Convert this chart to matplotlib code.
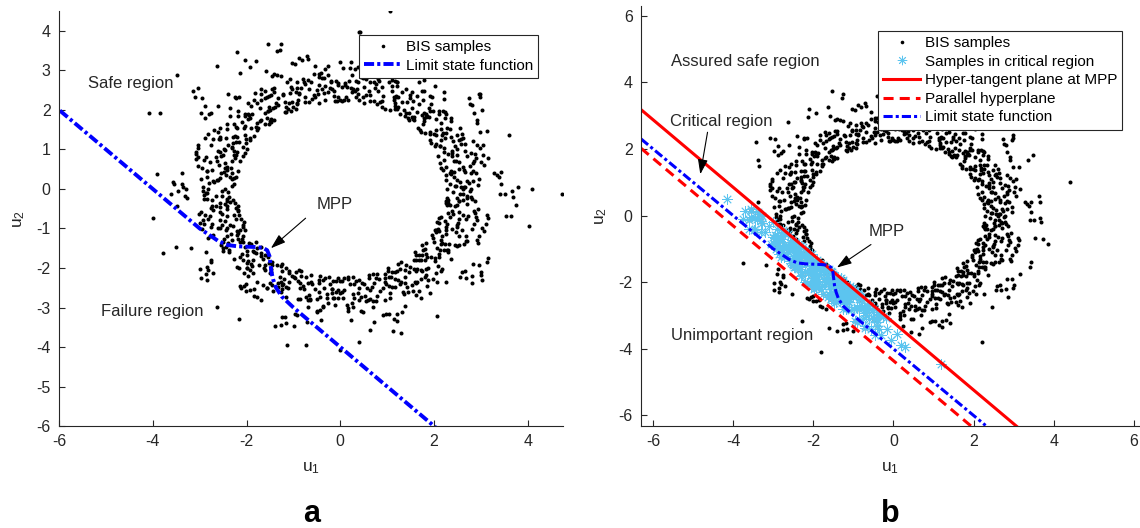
import numpy as np
import matplotlib
matplotlib.use('Agg')
import matplotlib.pyplot as plt

plt.rcParams['font.family'] = ['Liberation Sans', 'DejaVu Sans']
plt.rcParams['mathtext.default'] = 'regular'
plt.rcParams['axes.unicode_minus'] = False

# BIS samples around the safe circle, stored as (angle in degrees, radius)
ring_deg = [
    0, 4, 7, 11, 14, 18, 22, 25, 29, 32,
    36, 40, 43, 47, 50, 54, 58, 61, 65, 68,
    72, 76, 79, 83, 86, 90, 94, 97, 101, 104,
    108, 112, 115, 119, 122, 126, 130, 133, 137, 140,
    144, 148, 151, 155, 158, 162, 166, 169, 173, 176,
    180, 184, 187, 191, 194, 198, 202, 205, 209, 212,
    216, 220, 223, 227, 230, 234, 238, 241, 245, 248,
    252, 256, 259, 263, 266, 270, 274, 277, 281, 284,
    288, 292, 295, 299, 302, 306, 310, 313, 317, 320,
    324, 328, 331, 335, 338, 342, 346, 349, 353, 356,
    2, 5, 9, 12, 16, 20, 23, 27, 30, 34,
    38, 41, 45, 48, 52, 56, 59, 63, 66, 70,
    74, 77, 81, 84, 88, 92, 95, 99, 102, 106,
    110, 113, 117, 120, 124, 128, 131, 135, 138, 142,
    146, 149, 153, 156, 160, 164, 167, 171, 174, 178,
    182, 185, 189, 192, 196, 200, 203, 207, 210, 214,
    218, 221, 225, 228, 232, 236, 239, 243, 246, 250,
    254, 257, 261, 264, 268, 272, 275, 279, 282, 286,
    290, 293, 297, 300, 304, 308, 311, 315, 318, 322,
    326, 329, 333, 336, 340, 344, 347, 351, 354, 358,
    1, 3, 8, 10, 15, 17, 21, 26, 28, 33,
    37, 39, 44, 46, 51, 53, 57, 62, 64, 69,
    73, 75, 80, 82, 87, 89, 93, 98, 100, 105,
    109, 111, 116, 118, 123, 125, 129, 134, 136, 141,
    145, 147, 152, 154, 159, 161, 165, 170, 172, 177,
    181, 183, 188, 190, 195, 197, 201, 206, 208, 213,
    217, 219, 224, 226, 231, 233, 237, 242, 244, 249,
    253, 255, 260, 262, 267, 269, 273, 278, 280, 285,
    289, 291, 296, 298, 303, 305, 309, 314, 316, 321,
    325, 327, 332, 334, 339, 341, 345, 350, 352, 357,
    2, 6, 9, 13, 16, 19, 24, 27, 31, 35,
    38, 42, 45, 49, 52, 55, 60, 63, 67, 71,
    74, 78, 81, 85, 88, 91, 96, 99, 103, 107,
    110, 114, 117, 121, 124, 127, 132, 135, 139, 143,
    146, 150, 153, 157, 160, 163, 168, 171, 175, 179,
    182, 186, 189, 193, 196, 199, 204, 207, 211, 215,
    218, 222, 225, 229, 232, 235, 240, 243, 247, 251,
    254, 258, 261, 265, 268, 271, 276, 279, 283, 287,
    290, 294, 297, 301, 304, 307, 312, 315, 319, 323,
    326, 330, 333, 337, 340, 343, 348, 351, 355, 359,
    0, 5, 8, 12, 15, 20, 23, 26, 30, 34,
    36, 41, 44, 48, 51, 56, 59, 62, 66, 70,
    72, 77, 80, 84, 87, 92, 95, 98, 102, 106,
    108, 113, 116, 120, 123, 128, 131, 134, 138, 142,
    144, 149, 152, 156, 159, 164, 167, 170, 174, 178,
    180, 185, 188, 192, 195, 200, 203, 206, 210, 214,
    216, 221, 224, 228, 231, 236, 239, 242, 246, 250,
    252, 257, 260, 264, 267, 272, 275, 278, 282, 286,
    288, 293, 296, 300, 303, 308, 311, 314, 318, 322,
    324, 329, 332, 336, 339, 344, 347, 350, 354, 358,
    1, 4, 7, 11, 14, 18, 21, 25, 29, 33,
    37, 40, 43, 47, 50, 54, 57, 61, 65, 69,
    73, 76, 79, 83, 86, 90, 93, 97, 101, 105,
    109, 112, 115, 119, 122, 126, 129, 133, 137, 141,
    145, 148, 151, 155, 158, 162, 165, 169, 173, 177,
    181, 184, 187, 191, 194, 198, 201, 205, 209, 213,
    217, 220, 223, 227, 230, 234, 237, 241, 245, 249,
    253, 256, 259, 263, 266, 270, 273, 277, 281, 285,
    289, 292, 295, 299, 302, 306, 309, 313, 317, 321,
    325, 328, 331, 335, 338, 342, 345, 349, 353, 357,
    3, 6, 10, 13, 17, 19, 24, 28, 31, 35,
    39, 42, 46, 49, 53, 55, 60, 64, 67, 71,
    75, 78, 82, 85, 89, 91, 96, 100, 103, 107,
    111, 114, 118, 121, 125, 127, 132, 136, 139, 143,
    147, 150, 154, 157, 161, 163, 168, 172, 175, 179,
    183, 186, 190, 193, 197, 199, 204, 208, 211, 215,
    219, 222, 226, 229, 233, 235, 240, 244, 247, 251,
    255, 258, 262, 265, 269, 271, 276, 280, 283, 287,
    291, 294, 298, 301, 305, 307, 312, 316, 319, 323,
    327, 330, 334, 337, 341, 343, 348, 352, 355, 359,
    0, 2, 7, 10, 14, 17, 22, 26, 29, 32,
    36, 38, 43, 46, 50, 53, 58, 62, 65, 68,
    72, 74, 79, 82, 86, 89, 94, 98, 101, 104,
    108, 110, 115, 118, 122, 125, 130, 134, 137, 140,
    144, 146, 151, 154, 158, 161, 166, 170, 173, 176,
    180, 182, 187, 190, 194, 197, 202, 206, 209, 212,
    216, 218, 223, 226, 230, 233, 238, 242, 245, 248,
    252, 254, 259, 262, 266, 269, 274, 278, 281, 284,
    288, 290, 295, 298, 302, 305, 310, 314, 317, 320,
    324, 326, 331, 334, 338, 341, 346, 350, 353, 356,
    1, 5, 9, 12, 16, 21, 23, 27, 31, 34,
    37, 41, 45, 48, 52, 57, 59, 63, 67, 70,
    73, 77, 81, 84, 88, 93, 95, 99, 103, 106,
    109, 113, 117, 120, 124, 129, 131, 135, 139, 142,
    145, 149, 153, 156, 160, 165, 167, 171, 175, 178,
    181, 185, 189, 192, 196, 201, 203, 207, 211, 214,
    217, 221, 225, 228, 232, 237, 239, 243, 247, 250,
    253, 257, 261, 264, 268, 273, 275, 279, 283, 286,
    289, 293, 297, 300, 304, 309, 311, 315, 319, 322,
    325, 329, 333, 336, 340, 345, 347, 351, 355, 358,
    2, 4, 9, 11, 14, 19, 22, 26, 30, 33,
    38, 40, 45, 47, 50, 55, 58, 62, 66, 69,
    74, 76, 81, 83, 86, 91, 94, 98, 102, 105,
    110, 112, 117, 119, 122, 127, 130, 134, 138, 141,
    146, 148, 153, 155, 158, 163, 166, 170, 174, 177,
    182, 184, 189, 191, 194, 199, 202, 206, 210, 213,
    218, 220, 225, 227, 230, 235, 238, 242, 246, 249,
    254, 256, 261, 263, 266, 271, 274, 278, 282, 285,
    290, 292, 297, 299, 302, 307, 310, 314, 318, 321,
    326, 328, 333, 335, 338, 343, 346, 350, 354, 357,
]
ring_r = [
    2.28, 2.71, 2.45, 3.12, 2.93, 2.33, 2.58, 3.46, 2.84, 2.66,
    2.52, 2.24, 2.88, 2.63, 2.37, 3.05, 2.79, 2.41, 3.58, 2.97,
    2.35, 2.96, 2.62, 2.49, 3.22, 2.26, 2.74, 2.83, 2.55, 3.37,
    2.69, 2.43, 2.23, 2.91, 2.57, 3.64, 2.31, 3.17, 2.78, 2.86,
    2.81, 2.38, 3.09, 2.54, 2.25, 2.67, 2.99, 2.46, 3.41, 2.72,
    2.47, 3.28, 2.30, 2.76, 2.87, 2.59, 2.22, 3.51, 2.65, 2.94,
    2.36, 2.61, 2.95, 2.27, 2.50, 3.14, 2.82, 2.73, 2.44, 3.73,
    2.58, 2.89, 2.42, 3.02, 2.34, 2.64, 3.33, 2.24, 2.77, 2.92,
    2.25, 2.54, 2.75, 2.98, 2.39, 3.25, 2.68, 2.47, 2.85, 3.49,
    2.63, 2.32, 2.90, 2.48, 3.19, 2.27, 2.80, 3.60, 2.56, 2.70,
    2.44, 2.97, 2.29, 2.67, 2.53, 2.83, 3.08, 2.38, 3.36, 2.74,
    2.73, 2.26, 2.59, 3.30, 2.86, 2.42, 2.35, 2.64, 2.95, 3.83,
    2.31, 2.79, 3.16, 2.46, 2.62, 2.23, 2.90, 2.55, 3.44, 2.81,
    2.56, 2.37, 2.70, 2.84, 3.04, 2.49, 2.28, 3.39, 2.66, 2.99,
    2.92, 2.61, 2.24, 2.52, 2.78, 3.21, 2.40, 2.87, 2.33, 3.55,
    2.39, 2.85, 2.50, 2.27, 3.11, 2.69, 2.96, 2.45, 2.76, 3.32,
    2.66, 2.23, 2.82, 2.58, 2.36, 2.94, 3.27, 2.72, 2.43, 3.67,
    2.48, 3.06, 2.34, 2.77, 2.60, 2.25, 2.89, 2.54, 3.45, 2.83,
    2.29, 2.68, 2.98, 2.41, 2.85, 2.57, 3.13, 2.37, 2.71, 3.38,
    2.76, 2.51, 2.27, 2.93, 2.64, 3.24, 2.44, 2.32, 2.88, 3.52,
    2.57, 2.34, 2.81, 2.69, 3.00, 2.22, 2.47, 3.31, 2.95, 2.62,
    2.40, 2.87, 2.63, 3.18, 2.30, 2.55, 2.74, 2.26, 3.78, 2.91,
    2.85, 2.45, 2.28, 2.72, 2.59, 3.07, 2.36, 2.97, 2.67, 3.42,
    2.33, 2.62, 3.23, 2.50, 2.94, 2.80, 2.24, 2.43, 2.73, 3.35,
    2.70, 2.29, 2.53, 2.86, 2.38, 2.65, 3.15, 2.99, 2.46, 3.57,
    2.52, 2.91, 2.37, 2.61, 3.03, 2.26, 2.79, 2.44, 2.84, 3.29,
    2.24, 2.75, 2.58, 2.96, 2.41, 3.20, 2.31, 2.68, 2.89, 3.48,
    2.64, 2.43, 2.83, 2.28, 2.77, 2.55, 3.10, 2.35, 3.62, 2.93,
    2.37, 2.96, 2.49, 2.71, 2.25, 2.87, 2.60, 3.26, 2.42, 3.34,
    2.80, 2.55, 2.32, 2.98, 2.66, 2.23, 3.01, 2.48, 2.74, 3.70,
    2.46, 2.27, 2.69, 2.90, 2.56, 3.16, 2.82, 2.39, 3.40, 2.63,
    2.29, 2.84, 2.62, 2.41, 3.29, 2.72, 2.35, 2.53, 2.97, 3.53,
    2.75, 2.38, 2.95, 2.57, 2.24, 2.68, 3.05, 2.86, 2.45, 3.31,
    2.59, 3.12, 2.43, 2.26, 2.81, 2.50, 2.93, 2.67, 2.34, 3.87,
    2.32, 2.65, 2.88, 2.47, 2.73, 3.22, 2.23, 2.58, 2.99, 3.36,
    2.87, 2.44, 2.27, 2.64, 2.52, 2.36, 3.08, 2.78, 2.91, 3.46,
    2.53, 2.97, 2.39, 2.83, 3.27, 2.61, 2.30, 2.70, 2.45, 3.59,
    2.26, 2.58, 2.76, 2.42, 2.94, 2.33, 2.67, 3.14, 2.85, 3.32,
    2.68, 2.35, 2.55, 3.02, 2.88, 2.46, 2.74, 2.24, 3.39, 2.96,
    2.41, 2.82, 2.28, 2.60, 2.37, 2.99, 3.19, 2.52, 2.71, 3.66,
    2.78, 2.49, 2.92, 2.25, 2.63, 3.25, 2.40, 2.86, 2.57, 3.43,
    2.36, 2.70, 2.47, 2.89, 3.04, 2.29, 2.56, 2.79, 2.95, 3.50,
    2.61, 2.23, 2.84, 2.54, 2.33, 2.73, 3.11, 2.44, 3.35, 2.90,
    2.45, 2.93, 2.30, 2.66, 2.81, 2.51, 2.38, 3.21, 2.74, 3.74,
    2.27, 2.57, 2.77, 3.17, 2.42, 2.97, 2.65, 2.34, 2.86, 3.38,
    2.83, 2.39, 2.60, 2.48, 2.92, 2.25, 3.02, 2.69, 2.53, 3.61,
    2.50, 2.74, 2.35, 2.95, 2.58, 3.28, 2.43, 2.82, 2.31, 3.44,
    2.34, 2.88, 2.66, 2.23, 2.76, 2.55, 2.99, 3.13, 2.47, 3.33,
    2.72, 2.46, 2.31, 2.85, 3.07, 2.62, 2.39, 2.94, 2.59, 3.56,
    2.55, 2.28, 2.98, 2.70, 2.44, 2.80, 3.23, 2.37, 2.64, 3.41,
    2.66, 2.84, 3.46, 2.58, 2.33, 2.93, 3.12, 2.45, 2.71, 2.28,
    2.97, 3.58, 2.41, 2.79, 3.05, 2.37, 2.63, 2.88, 2.24, 2.52,
    3.37, 2.55, 2.83, 2.74, 2.26, 3.22, 2.49, 2.62, 2.96, 2.35,
    2.86, 2.78, 3.17, 2.31, 3.64, 2.57, 2.91, 2.23, 2.43, 2.69,
    2.72, 3.41, 2.46, 2.99, 2.67, 2.25, 2.54, 3.09, 2.38, 2.81,
    2.94, 2.65, 3.51, 2.22, 2.59, 2.87, 2.76, 2.30, 3.28, 2.47,
    3.73, 2.44, 2.73, 2.82, 3.14, 2.50, 2.27, 2.95, 2.61, 2.36,
    2.92, 2.77, 2.24, 3.33, 2.64, 2.34, 3.02, 2.42, 2.89, 2.58,
    3.49, 2.85, 2.47, 2.68, 3.25, 2.39, 2.98, 2.75, 2.54, 2.25,
    2.70, 2.56, 3.60, 2.80, 2.27, 3.19, 2.48, 2.90, 2.32, 2.63,
    2.74, 3.36, 2.38, 3.08, 2.83, 2.53, 2.67, 2.29, 2.97, 2.44,
    3.83, 2.95, 2.64, 2.35, 2.42, 2.86, 3.30, 2.59, 2.26, 2.73,
    2.81, 3.44, 2.55, 2.90, 2.23, 2.62, 2.46, 3.16, 2.79, 2.31,
    2.99, 2.66, 3.39, 2.28, 2.49, 3.04, 2.84, 2.70, 2.37, 2.56,
    3.55, 2.33, 2.87, 2.40, 3.21, 2.78, 2.52, 2.24, 2.61, 2.92,
    3.32, 2.76, 2.45, 2.96, 2.69, 3.11, 2.27, 2.50, 2.85, 2.39,
    3.67, 2.43, 2.72, 3.27, 2.94, 2.36, 2.58, 2.82, 2.23, 2.66,
    2.83, 3.45, 2.54, 2.89, 2.25, 2.60, 2.77, 2.34, 3.06, 2.48,
    3.38, 2.71, 2.37, 3.13, 2.57, 2.85, 2.41, 2.98, 2.68, 2.29,
    3.52, 2.88, 2.32, 2.44, 3.24, 2.64, 2.93, 2.27, 2.51, 2.76,
    2.62, 2.95, 3.31, 2.47, 2.22, 3.00, 2.69, 2.81, 2.34, 2.57,
    2.91, 3.78, 2.26, 2.74, 2.55, 2.30, 3.18, 2.63, 2.87, 2.40,
    3.42, 2.67, 2.97, 2.36, 3.07, 2.59, 2.72, 2.28, 2.45, 2.85,
    3.35, 2.73, 2.43, 2.24, 2.80, 2.94, 2.50, 3.23, 2.62, 2.33,
    3.57, 2.46, 2.99, 3.15, 2.65, 2.38, 2.86, 2.53, 2.29, 2.70,
    3.29, 2.84, 2.44, 2.79, 2.26, 3.03, 2.61, 2.37, 2.91, 2.52,
    3.48, 2.89, 2.68, 2.31, 3.20, 2.41, 2.96, 2.58, 2.75, 2.24,
    2.93, 3.62, 2.35, 3.10, 2.55, 2.77, 2.28, 2.83, 2.43, 2.64,
    3.34, 2.42, 3.26, 2.60, 2.87, 2.25, 2.71, 2.49, 2.96, 2.37,
    3.70, 2.74, 2.48, 3.01, 2.23, 2.66, 2.98, 2.32, 2.55, 2.80,
    2.63, 3.40, 2.39, 2.82, 3.16, 2.56, 2.90, 2.69, 2.27, 2.46,
    3.53, 2.97, 2.53, 2.35, 2.72, 3.29, 2.41, 2.62, 2.84, 2.29,
    3.31, 2.45, 2.86, 3.05, 2.68, 2.24, 2.57, 2.95, 2.38, 2.75,
    3.87, 2.34, 2.67, 2.93, 2.50, 2.81, 2.26, 2.43, 3.12, 2.59,
    3.36, 2.99, 2.58, 2.23, 3.22, 2.73, 2.47, 2.88, 2.65, 2.32,
    3.46, 2.91, 2.78, 3.08, 2.36, 2.52, 2.64, 2.27, 2.44, 2.87,
    3.59, 2.45, 2.70, 2.30, 2.61, 3.27, 2.83, 2.39, 2.97, 2.53,
    3.32, 2.85, 3.14, 2.67, 2.33, 2.94, 2.42, 2.76, 2.58, 2.26,
    2.96, 3.39, 2.24, 2.74, 2.46, 2.88, 3.02, 2.55, 2.35, 2.68,
    3.66, 2.71, 2.52, 3.19, 2.99, 2.37, 2.60, 2.28, 2.82, 2.41,
    3.43, 2.57, 2.86, 2.40, 3.25, 2.63, 2.25, 2.92, 2.49, 2.78,
    3.50, 2.95, 2.79, 2.56, 2.29, 3.04, 2.89, 2.47, 2.70, 2.36,
    2.90, 3.35, 2.44, 3.11, 2.73, 2.33, 2.54, 2.84, 2.23, 2.61,
    3.74, 2.74, 3.21, 2.38, 2.51, 2.81, 2.66, 2.30, 2.93, 2.45,
    3.38, 2.86, 2.34, 2.65, 2.97, 2.42, 3.17, 2.77, 2.57, 2.27,
    3.61, 2.53, 2.69, 3.02, 2.25, 2.92, 2.48, 2.60, 2.39, 2.83,
    3.44, 2.31, 2.82, 2.43, 3.28, 2.58, 2.95, 2.35, 2.74, 2.50,
    3.33, 2.47, 3.13, 2.99, 2.55, 2.76, 2.23, 2.66, 2.88, 2.34,
    3.56, 2.59, 2.94, 2.39, 2.62, 3.07, 2.85, 2.31, 2.46, 2.72,
    3.41, 2.64, 2.37, 3.23, 2.80, 2.44, 2.70, 2.98, 2.28, 2.55,
]

# far-out samples of each run
tail_a_u1 = [1.05, 0.39, 0.43, -1.55, -2.21, -1.36, -2.04, -1.79, -2.64, -3.48,
             -3.14, -3.04, -4.09, -3.84, -3.92, -4.00, -3.79, -3.50, 4.74, 4.09,
             4.02, 3.61, 3.79, 3.75, 3.65, 2.95, 3.03, 2.06, 1.30, 1.13,
             0.39, 0.00, -1.13, -0.74, -2.17, -2.62, 2.80, 3.03, 3.14]
tail_a_u2 = [4.51, 3.96, 3.98, 3.66, 3.47, 3.49, 3.27, 3.23, 3.10, 2.89,
             2.49, 2.55, 1.92, 1.92, 0.37, -0.73, -1.62, -1.47, -0.13, 0.00,
             -0.94, 1.37, 0.05, -0.40, -0.68, 2.39, 2.01, -3.22, -3.65, -3.59,
             -3.86, -4.08, -3.95, -3.95, -3.29, -2.98, -2.37, -2.30, -1.84]
tail_b_u1 = [4.40, 3.85, 3.74, 3.63, 3.65, 3.49, 3.37, 2.97, 3.43, 3.40,
             2.86, 2.45, 2.20, -1.54, -1.63, -2.10, -2.63, -3.42, -3.37, -3.35,
             -3.76, -2.90, -2.54, -2.27, -1.61, -1.81, -1.09, 1.41, 0.45, -0.41]
tail_b_u2 = [1.00, -0.84, -0.69, 0.58, 0.40, 1.82, 1.66, 2.26, -1.38, -1.53,
             -2.45, -2.76, -3.79, 3.75, 3.27, 3.20, 2.81, 2.21, 1.66, 1.49,
             -1.41, -1.76, -2.36, -3.17, -3.39, -4.11, -3.79, -3.22, -3.49, 3.60]

# extra samples drawn inside the critical band
crit_u1 = [-1.62, -1.85, -1.40, -2.10, -1.20, -2.35, -1.70, -0.95, -2.55, -1.05,
           -2.00, -1.55, -2.80, -0.70, -2.25, -1.30, -1.95, -2.65, -0.50, -1.10,
           -1.75, -2.45, -0.85, -2.95, -1.45, -2.15, -0.35, -3.10, -1.25, -1.90,
           -2.30, -0.60, -1.60, -2.70, -1.00, -2.05, -1.35, -2.50, -0.75, -1.80,
           -3.30, -0.15, -1.50, -2.20, -1.15, -2.60, -0.90, -1.68, -2.38, -1.22,
           -3.55, 0.10, -1.88, -2.85, -0.45, -1.58, -2.12, -1.02, -2.75, -0.65,
           -1.42, -1.98, -2.42, -1.28, -3.75, 0.20, -1.72, -2.28, -0.98, -4.15,
           1.20, -3.70, -3.40, -0.25, -1.48, -2.58, -1.12, -1.82, -2.02, -1.38,
           -2.90, -3.05, -2.62, -2.22, -1.78, -1.18, -0.80, -0.40, -0.05, -0.55,
           -1.65, -2.48, -3.20, -2.72, -1.92, -1.32, -0.88, -2.18, -1.52, -2.88,
           -3.45, -0.30, -1.08, -1.96, -2.52, -0.72, -1.62, -2.32, -3.00, -0.18,
           -1.40, -2.08, -1.25, -1.86, -2.62, -0.62, -3.60, 0.30, -1.55, -2.40]
crit_u2 = [-1.60, -1.56, -1.95, -1.18, -2.32, -1.25, -2.05, -2.35, -0.90, -2.85,
           -1.95, -1.93, -0.53, -2.92, -0.95, -1.88, -1.71, -1.20, -2.90, -2.60,
           -1.55, -1.53, -3.10, -0.67, -2.35, -1.35, -3.40, -0.30, -2.80, -1.32,
           -1.80, -2.65, -2.35, -0.55, -2.45, -1.70, -2.25, -1.20, -3.10, -2.20,
           -0.50, -3.40, -1.75, -1.65, -2.13, -0.92, -2.75, -1.90, -0.97, -2.66,
           -0.05, -3.55, -1.97, -1.15, -3.60, -2.12, -1.28, -2.18, -0.97, -2.83,
           -2.13, -1.54, -0.83, -2.12, -0.10, -3.90, -1.70, -1.40, -2.82, 0.50,
           -4.45, 0.15, -0.10, -3.05, -2.62, -1.37, -2.46, -1.46, -1.16, -1.84,
           -0.40, -0.85, -0.56, -1.40, -2.12, -2.80, -2.70, -3.20, -3.75, -3.40,
           -1.67, -1.07, -0.50, -1.23, -2.18, -2.43, -2.34, -1.12, -2.10, -0.67,
           -0.40, -3.60, -2.34, -1.42, -0.73, -3.33, -2.38, -1.60, -0.20, -3.07,
           -2.05, -1.50, -2.00, -1.74, -1.10, -3.10, -0.40, -3.95, -2.30, -1.10]

# limit state function
lsf_u1 = [-6.3, -3.0, -2.6, -2.4, -2.2, -2.0, -1.8, -1.65, -1.56,
          -1.51, -1.49, -1.47, -1.43, -1.37, -1.25, -1.0, 2.3]
lsf_u2 = [2.3, -1.0, -1.32, -1.42, -1.45, -1.46, -1.47, -1.49, -1.55,
          -1.7, -1.9, -2.1, -2.3, -2.5, -2.72, -3.0, -6.3]

# hyper-tangent plane at the MPP and the parallel plane
tangent_u1 = [-6.3, 3.07]
tangent_u2 = [3.18, -6.32]
parallel_u1 = [-6.3, 1.94]
parallel_u2 = [2.02, -6.32]

ring_u1 = np.array(ring_r) * np.cos(np.radians(ring_deg))
ring_u2 = np.array(ring_r) * np.sin(np.radians(ring_deg))


def line_at(x, xs, ys):
    return ys[0] + (ys[1] - ys[0]) * (x - xs[0]) / (xs[1] - xs[0])


in_band = (ring_u2 < line_at(ring_u1, tangent_u1, tangent_u2)) & \
          (ring_u2 > line_at(ring_u1, parallel_u1, parallel_u2))
band_u1 = np.concatenate([ring_u1[in_band], crit_u1])
band_u2 = np.concatenate([ring_u2[in_band], crit_u2])

AX = '#262626'
dot_kw = dict(ls='none', marker='o', ms=2.9, mew=0, color='k')
lsf_kw = dict(color='#0000ff', lw=2.8, ls=(0, (2.6, 0.8, 0.8, 0.8)))


def style_axes(ax):
    for s in ['top', 'right']:
        ax.spines[s].set_visible(False)
    for s in ['left', 'bottom']:
        ax.spines[s].set_color(AX)
        ax.spines[s].set_linewidth(0.8)
    ax.tick_params(direction='in', length=4, width=0.8, colors=AX,
                   labelsize=11.5, pad=6)
    ax.set_xlabel('u$_{1}$', fontsize=12.5, color=AX, labelpad=8)
    ax.set_ylabel('u$_{2}$', fontsize=12.5, color=AX, labelpad=7)


fig = plt.figure(figsize=(11.4, 5.28), dpi=100)
arrow_kw = dict(arrowstyle='-|>,head_length=0.9,head_width=0.3',
                color='k', lw=0.8, shrinkA=0, shrinkB=0)

# ---- panel a
ax = fig.add_axes([0.0518, 0.193, 0.442, 0.786])
ax.plot(np.concatenate([ring_u1, tail_a_u1]),
        np.concatenate([ring_u2, tail_a_u2]), label='BIS samples', **dot_kw)
ax.plot(lsf_u1, lsf_u2, label='Limit state function', **lsf_kw)
ax.set_xlim(-6, 4.75)
ax.set_ylim(-6, 4.5)
ax.set_xticks(range(-6, 5, 2))
ax.set_yticks(range(-6, 5))
style_axes(ax)
ax.text(-5.38, 2.68, 'Safe region', fontsize=12, va='center', color=AX)
ax.text(-5.11, -3.1, 'Failure region', fontsize=12, va='center', color=AX)
ax.text(-0.13, -0.4, 'MPP', fontsize=12, ha='center', va='center', color=AX)
ax.annotate('', xy=(-1.48, -1.5), xytext=(-0.74, -0.74), arrowprops=arrow_kw)
leg = ax.legend(loc='upper right', bbox_to_anchor=(0.966, 0.961), fontsize=11,
                fancybox=False, framealpha=1, edgecolor=AX, handlelength=2.4,
                handletextpad=0.3, labelspacing=0.3, borderpad=0.35,
                markerscale=0.9)
leg.get_frame().set_linewidth(0.8)

# ---- panel b
ax = fig.add_axes([0.5623, 0.193, 0.4368, 0.795])
ax.plot(np.concatenate([ring_u1, tail_b_u1]),
        np.concatenate([ring_u2, tail_b_u2]), label='BIS samples', **dot_kw)
ax.plot(band_u1, band_u2, ls='none', marker=(8, 2, 0), ms=7.5, mew=0.6,
        color='#5cc4ef', label='Samples in critical region')
ax.plot(tangent_u1, tangent_u2, color='#ff0000', lw=2.2,
        label='Hyper-tangent plane at MPP')
ax.plot(parallel_u1, parallel_u2, color='#ff0000', lw=2.2,
        ls=(0, (3.3, 2.0)), label='Parallel hyperplane')
ax.plot(lsf_u1, lsf_u2, label='Limit state function',
        **dict(lsf_kw, lw=2.2, ls=(0, (3.0, 1.0, 1.0, 1.0))))
ax.set_xlim(-6.3, 6.13)
ax.set_ylim(-6.32, 6.28)
ax.set_xticks(range(-6, 7, 2))
ax.set_yticks(range(-6, 7, 2))
style_axes(ax)
ax.text(-5.55, 4.61, 'Assured safe region', fontsize=12, va='center', color=AX)
ax.text(-5.58, 2.81, 'Critical region', fontsize=12, va='center', color=AX)
ax.text(-5.55, -3.6, 'Unimportant region', fontsize=12, va='center', color=AX)
ax.text(-0.18, -0.48, 'MPP', fontsize=12, ha='center', va='center', color=AX)
ax.annotate('', xy=(-1.41, -1.56), xytext=(-0.56, -0.87), arrowprops=arrow_kw)
ax.annotate('', xy=(-4.82, 1.24), xytext=(-4.64, 2.5), arrowprops=arrow_kw)
leg = ax.legend(loc='upper right', bbox_to_anchor=(0.982, 0.96), fontsize=11,
                fancybox=False, framealpha=1, edgecolor=AX, handlelength=2.4,
                handletextpad=0.3, labelspacing=0.3, borderpad=0.35,
                markerscale=0.9)
leg.get_frame().set_linewidth(0.8)

fig.text(0.273, 0.027, 'a', fontsize=22, fontweight='bold', ha='center', va='center')
fig.text(0.781, 0.027, 'b', fontsize=22, fontweight='bold', ha='center', va='center')

fig.savefig('out.png', dpi=100)
